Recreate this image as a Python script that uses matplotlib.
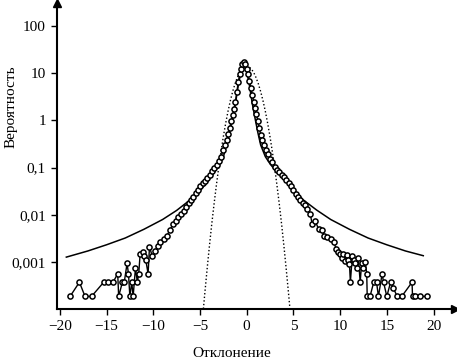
import matplotlib
matplotlib.use('Agg')
import matplotlib.pyplot as plt
from matplotlib.ticker import FixedLocator, FixedFormatter, NullLocator

# empirical distribution (open circles)
dev = [-18.9, -17.9, -17.3, -16.6, -15.3, -14.8, -14.3, -13.8, -13.7, -13.3,
       -13.1, -12.8, -12.65, -12.5, -12.3, -12.15, -11.9, -11.7, -11.55, -11.4,
       -11.1, -10.95, -10.8, -10.55, -10.4, -10.1, -9.8, -9.5, -9.25, -8.9,
       -8.55, -8.2, -7.9, -7.6, -7.3, -7.0, -6.75, -6.5, -6.2, -5.95,
       -5.7, -5.45, -5.2, -4.95, -4.7, -4.45, -4.2, -3.95, -3.7, -3.45,
       -3.2, -2.95, -2.75, -2.55, -2.35, -2.15, -1.95, -1.8, -1.65, -1.5,
       -1.35, -1.2, -1.05, -0.9, -0.75, -0.6, -0.45, -0.3, -0.15, 0.0,
       0.15, 0.3, 0.45, 0.6, 0.75, 0.9, 1.05, 1.2, 1.35, 1.5,
       1.65, 1.85, 2.05, 2.25, 2.5, 2.75, 3.0, 3.25, 3.5, 3.75,
       4.0, 4.25, 4.5, 4.75, 5.0, 5.25, 5.5, 5.75, 6.0, 6.25,
       6.5, 6.8, 7.0, 7.3, 7.7, 8.05, 8.3, 8.6, 9.0, 9.3,
       9.6, 9.8, 10.0, 10.2, 10.35, 10.5, 10.7, 10.85, 11.0, 11.1,
       11.3, 11.45, 11.6, 11.8, 11.95, 12.15, 12.3, 12.5, 12.7, 12.85,
       12.9, 13.2, 13.6, 13.9, 14.1, 14.5, 14.65, 15.0, 15.4, 15.7,
       16.1, 16.6, 17.7, 17.75, 18.0, 18.6, 19.3]
prob = [1.85e-4, 3.7e-4, 1.85e-4, 1.85e-4, 3.7e-4, 3.7e-4, 3.7e-4, 5.6e-4, 1.85e-4, 3.7e-4,
        3.7e-4, 9.3e-4, 5.6e-4, 1.85e-4, 3.7e-4, 1.85e-4, 7.4e-4, 3.7e-4, 5.6e-4, 1.5e-3,
        1.6e-3, 1.3e-3, 1.1e-3, 5.6e-4, 2.1e-3, 1.3e-3, 1.7e-3, 2.2e-3, 2.6e-3, 3.1e-3,
        3.6e-3, 4.7e-3, 6.3e-3, 7.2e-3, 8.9e-3, 1.05e-2, 1.2e-2, 1.45e-2, 1.8e-2, 2.1e-2,
        2.4e-2, 2.9e-2, 3.4e-2, 4.0e-2, 4.6e-2, 5.3e-2, 6.0e-2, 6.9e-2, 8.3e-2, 9.8e-2,
        0.115, 0.135, 0.17, 0.23, 0.30, 0.38, 0.52, 0.70, 0.95, 1.3,
        1.75, 2.5, 4.0, 6.5, 9.5, 12.5, 15.5, 17.5, 16.0, 12.5,
        9.5, 6.8, 4.8, 3.5, 2.5, 1.8, 1.35, 0.95, 0.68, 0.50,
        0.38, 0.30, 0.24, 0.19, 0.155, 0.13, 0.105, 0.09, 0.079, 0.07,
        0.062, 0.054, 0.047, 0.040, 0.034, 0.028, 0.024, 0.021, 0.018, 0.016,
        0.013, 0.0105, 0.0065, 0.0075, 0.005, 0.0047, 0.0036, 0.0034, 0.0030, 0.0026,
        0.0019, 0.0016, 0.0015, 0.0012, 0.0015, 0.00105, 0.0014, 0.0011, 9.0e-4, 3.7e-4,
        1.3e-3, 1.1e-3, 9.3e-4, 7.4e-4, 1.2e-3, 3.7e-4, 9.3e-4, 7.4e-4, 1.0e-3, 5.6e-4,
        1.85e-4, 1.85e-4, 3.7e-4, 3.7e-4, 1.85e-4, 5.6e-4, 3.7e-4, 1.85e-4, 3.7e-4, 2.8e-4,
        1.85e-4, 1.85e-4, 3.7e-4, 1.85e-4, 1.85e-4, 1.85e-4, 1.85e-4]

# Levy fit (solid line)
levy_x = [-19.3, -17, -15, -13, -11, -9, -7.5, -6, -5, -4, -3, -2.5, -2, -1.5,
          -1.2, -0.9, -0.6, -0.3, 0, 0.3, 0.6, 0.9, 1.2, 1.5, 2, 2.5, 3, 4,
          5, 6, 7.5, 9, 11, 13, 15, 17, 18.9]
levy_y = [1.26e-3, 1.7e-3, 2.3e-3, 3.2e-3, 4.9e-3, 7.9e-3, 1.23e-2, 2.1e-2, 3.2e-2, 5.6e-2,
          0.107, 0.166, 0.40, 1.1, 2.3, 5.5, 11, 16, 11, 5.5, 2.3, 1.1, 0.55, 0.3,
          0.17, 0.12, 0.09, 0.058, 0.034, 0.021, 0.0125, 0.0079, 0.0049, 0.0032, 0.0023,
          0.0017, 0.00135]

# Gaussian (dotted line)
gauss_x = [-4.7, -4.5, -4.25, -4.0, -3.75, -3.5, -3.25, -3.0, -2.75, -2.5, -2.25, -2.0,
           -1.75, -1.5, -1.25, -1.0, -0.75, -0.5, -0.25, 0.0, 0.25, 0.5, 0.75, 1.0,
           1.25, 1.5, 1.75, 2.0, 2.25, 2.5, 2.75, 3.0, 3.25, 3.5, 3.75, 4.0, 4.25,
           4.5, 4.7]
gauss_y = [7.1e-5, 1.95e-4, 6.5e-4, 2.04e-3, 6.0e-3, 1.62e-2, 4.1e-2, 9.8e-2, 0.216, 0.447,
           0.86, 1.55, 2.6, 4.07, 5.96, 8.1, 10.4, 12.3, 13.6, 14.1, 13.6, 12.3, 10.4, 8.1,
           5.96, 4.07, 2.6, 1.55, 0.86, 0.447, 0.216, 9.8e-2, 4.1e-2, 1.62e-2, 6.0e-3,
           2.04e-3, 6.5e-4, 1.95e-4, 7.1e-5]

x_ticks = [-20, -15, -10, -5, 0, 5, 10, 15, 20]
x_labels = ['\u221220', '\u221215', '\u221210', '\u22125', '0', '5', '10', '15', '20']
y_ticks = [0.001, 0.01, 0.1, 1, 10, 100]
y_labels = ['0,001', '0,01', '0,1', '1', '10', '100']

plt.rcParams['font.family'] = ['Liberation Serif', 'DejaVu Serif']
plt.rcParams['font.size'] = 11

fig = plt.figure(figsize=(4.57, 3.64), dpi=100)
ax = fig.add_axes([0.1247, 0.1511, 0.871, 0.8407])

ax.plot(gauss_x, gauss_y, color='black', lw=1.0, linestyle=(0, (1, 1.6)))
ax.plot(levy_x, levy_y, color='black', lw=1.1)
ax.plot(dev, prob, color='black', lw=1.0, marker='o', markersize=3.7,
        markerfacecolor='white', markeredgecolor='black', markeredgewidth=1.1)

ax.set_yscale('log')
ax.set_xlim(-20.3, 22.3)
ax.set_ylim(1e-4, 10 ** 2.49)

ax.xaxis.set_major_locator(FixedLocator(x_ticks))
ax.xaxis.set_major_formatter(FixedFormatter(x_labels))
ax.yaxis.set_major_locator(FixedLocator(y_ticks))
ax.yaxis.set_major_formatter(FixedFormatter(y_labels))
ax.yaxis.set_minor_locator(NullLocator())

for side in ['top', 'right']:
    ax.spines[side].set_visible(False)
for side in ['left', 'bottom']:
    ax.spines[side].set_linewidth(1.5)
ax.tick_params(direction='out', length=4, width=1.0, labelsize=11, pad=4)

# arrow heads on the axes
ax.plot(1, 0, '>k', markersize=6, transform=ax.transAxes, clip_on=False)
ax.plot(0, 1, '^k', markersize=6, transform=ax.transAxes, clip_on=False)

ax.set_xlabel('Отклонение', fontsize=11)
ax.set_ylabel('Вероятность', fontsize=11)
ax.xaxis.set_label_coords(0.44, -0.125)
ax.yaxis.set_label_coords(-0.1, 0.66)

fig.savefig('out.png', dpi=100)
